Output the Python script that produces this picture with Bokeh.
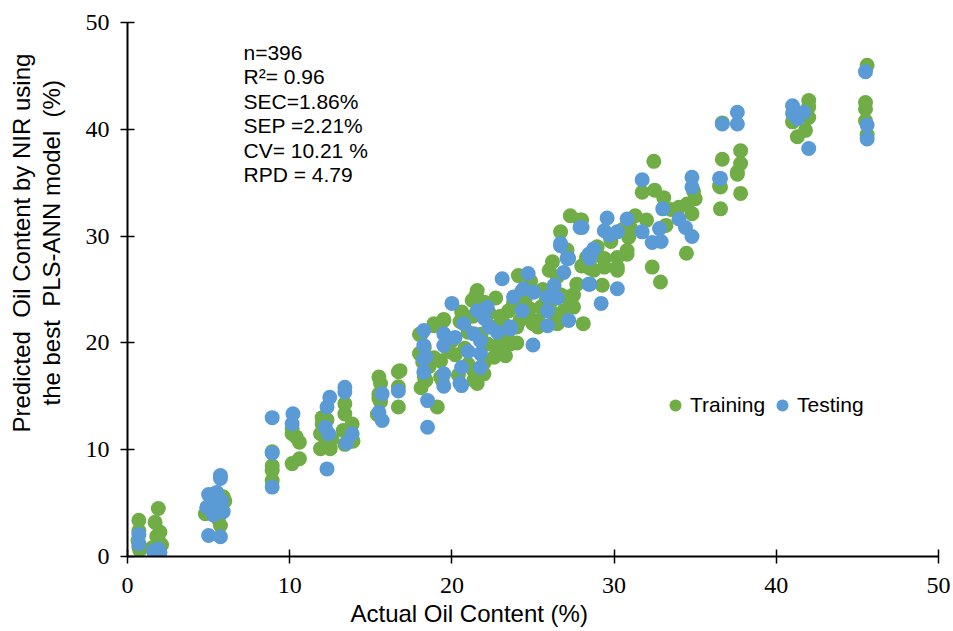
from bokeh.plotting import figure
from bokeh.models import Legend, LegendItem, Label, Title, Range1d, FixedTicker
from bokeh.embed import file_html
from bokeh.resources import INLINE

# ---- data ----
train_x = [0.7, 0.7, 0.7, 0.75, 0.65,
           1.9, 1.7, 2.0, 1.9, 1.5, 2.1, 1.8,
           4.8, 5.73, 5.2, 5.9, 5.5, 4.9, 5.6, 6.0, 5.3,
           8.92, 8.92, 8.92, 8.92,
           10.15, 10.15, 10.6, 10.15, 10.6, 10.4,
           12.0, 12.0, 11.9, 11.9, 12.5, 12.3, 12.6, 12.2,
           13.4, 13.4, 13.85, 13.3, 13.9, 13.4, 13.7,
           15.5, 15.6, 15.5, 15.5, 15.4, 15.6,
           16.7, 16.7, 16.7, 16.8,
           18.1, 18.3, 18.0, 18.0, 18.3, 18.1, 18.4, 18.9, 18.9, 18.9, 19.3, 19.1,
           19.5, 19.5, 19.3, 19.4, 18.6, 18.2,
           20.6, 20.2, 21.0, 21.25, 21.56, 21.35, 21.35, 21.56, 21.56, 21.97, 22.2,
           22.6, 22.8, 23.4, 23.6, 24.2, 24.6, 25.5, 26.3, 26.5, 25.3, 25.3, 24.1,
           24.85, 22.0, 21.5, 20.5, 21.0, 22.5, 23.0, 23.3, 23.0, 23.5, 24.0, 24.0,
           24.5, 25.0, 25.8, 20.0, 20.8, 21.8, 22.3, 23.8, 24.8, 22.0, 20.4, 19.8,
           21.3, 22.7, 23.2, 24.3, 25.6, 26.0, 26.9,
           27.3, 28.0, 26.7, 26.2, 26.0, 28.1, 27.5, 27.1, 27.1, 28.3, 28.96, 26.5,
           27.7, 27.5, 27.3, 26.7, 27.9, 30.9, 30.8, 30.2, 29.4, 30.2, 29.4, 28.75,
           29.27, 30.8, 30.2, 28.5, 29.8, 30.5, 29.0, 28.0,
           32.45, 31.73, 32.5, 33.06, 34.8, 34.0, 31.3, 32.0, 32.35, 32.86, 34.46,
           33.5, 34.5, 35.0, 33.2, 31.0, 34.9,
           36.56, 36.56, 37.8, 37.6, 36.67, 36.67, 37.8, 37.8, 37.6, 36.5,
           42.0, 42.0, 42.0, 41.0, 41.8, 41.3, 41.1,
           45.6, 45.5, 45.5, 45.5, 45.6]
train_y = [3.4, 2.4, 0.9, 0.6, 1.5,
           4.5, 3.2, 2.3, 1.5, 0.8, 1.1, 1.9,
           4.0, 2.9, 5.0, 5.6, 4.5, 4.6, 3.5, 5.2, 5.8,
           9.8, 8.5, 8.05, 7.1,
           11.5, 12.0, 10.7, 8.7, 9.15, 11.2,
           13.0, 12.4, 11.5, 10.1, 10.1, 12.8, 11.0, 10.5,
           14.3, 13.35, 12.4, 11.8, 10.8, 10.5, 11.6,
           16.8, 16.2, 15.2, 14.8, 13.3, 14.5,
           17.3, 15.9, 14.0, 17.4,
           20.8, 19.6, 19.0, 20.8, 16.8, 15.8, 16.5, 21.8, 21.6, 18.6, 16.8, 14.0,
           22.2, 22.1, 18.3, 16.5, 17.8, 18.2,
           22.9, 18.9, 18.0, 24.0, 24.9, 16.5, 17.4, 16.2, 16.9, 17.1, 19.9,
           18.65, 19.6, 20.8, 19.9, 22.1, 22.7, 23.35, 22.7, 21.8, 22.1, 21.5, 26.3,
           25.8, 23.8, 24.5, 22.0, 21.0, 21.5, 20.5, 18.8, 22.5, 23.0, 21.5, 20.0,
           24.0, 21.8, 24.0, 20.2, 19.5, 20.8, 22.8, 23.8, 23.2, 18.2, 17.0, 19.2,
           22.5, 24.2, 21.8, 24.8, 25.0, 23.5, 23.0,
           31.9, 31.5, 30.4, 27.6, 26.8, 21.8, 23.35, 24.3, 28.7, 28.0, 29.0, 26.2,
           25.5, 24.5, 23.8, 24.5, 31.5, 29.9, 28.65, 28.0, 27.9, 26.8, 27.1, 26.8,
           25.4, 28.3, 27.1, 27.0, 29.5, 30.6, 28.2, 27.2,
           37.0, 34.1, 34.3, 33.6, 32.1, 32.7, 31.9, 31.5, 27.1, 25.7, 28.4,
           32.5, 33.0, 33.5, 31.0, 30.8, 34.2,
           34.6, 32.55, 34.0, 36.0, 37.2, 40.6, 38.0, 36.8, 35.8, 34.7,
           42.7, 42.1, 41.1, 40.7, 39.9, 39.3, 41.2,
           46.0, 42.5, 41.9, 40.8, 39.5]

test_x = [0.7, 0.7,
          1.6, 1.8, 2.0, 1.9, 1.7,
          5.73, 5.73, 5.0, 5.4, 5.8, 5.2, 5.6, 4.9, 5.9, 5.3, 5.0, 5.73, 5.5,
          8.92, 8.92, 8.92,
          10.2, 10.15,
          12.47, 12.3, 12.2, 12.4, 12.3,
          13.4, 13.4, 13.85, 13.5,
          15.7, 15.5, 15.7,
          16.7,
          18.27, 18.27, 18.27, 18.4, 18.5, 18.5, 18.27,
          19.5, 19.5, 19.5, 19.5, 20.6, 20.6, 20.73, 20.0, 21.76, 21.76, 21.56, 22.18,
          21.76, 21.35, 22.8, 23.6, 23.1, 23.8, 24.33, 24.7, 24.4, 25.05, 25.9, 26.3,
          26.5, 25.9, 25.0, 26.7, 27.2, 26.9, 27.2, 27.9, 28.44, 28.44, 29.2, 25.9,
          23.6, 20.5, 22.0, 21.0, 22.3, 20.2,
          31.73, 34.8, 34.8, 36.56, 33.0, 29.57, 30.8, 28.03, 30.2, 31.73, 32.8, 34.0,
          34.8, 32.35, 32.9, 34.4, 29.7, 28.75, 28.5, 27.1, 28.5, 30.2, 26.7, 29.4,
          36.67, 37.6, 37.6, 36.5,
          41.0, 41.0, 41.7, 41.3, 42.0,
          45.5, 45.6, 45.6]
test_y = [2.06, 1.2,
          0.5, 0.3, 0.4, 0.7, 0.2,
          7.58, 7.3, 5.8, 5.5, 5.2, 4.8, 4.4, 4.6, 4.2, 3.9, 1.97, 1.85, 6.0,
          13.0, 9.7, 6.5,
          13.36, 12.43,
          14.9, 14.0, 12.1, 11.5, 8.2,
          15.85, 15.4, 11.5, 10.6,
          15.23, 13.5, 12.73,
          15.5,
          21.16, 19.76, 17.26, 18.7, 14.6, 12.1, 18.5,
          20.85, 19.76, 17.1, 15.95, 16.0, 17.7, 21.8, 23.7, 17.7, 19.0, 23.0, 23.35,
          20.2, 20.85, 21.0, 21.3, 26.0, 24.3, 23.0, 26.5, 25.05, 24.75, 24.3, 25.4,
          24.2, 21.6, 19.8, 29.1, 27.9, 26.6, 22.1, 30.8, 28.3, 25.5, 23.7, 23.0,
          21.5, 16.2, 22.3, 19.2, 21.5, 20.5,
          35.27, 35.5, 34.6, 35.4, 32.55, 31.7, 31.6, 30.8, 30.4, 30.4, 30.7, 31.6,
          29.96, 29.4, 29.5, 30.8, 30.1, 28.8, 27.9, 27.9, 25.5, 25.07, 29.3, 30.5,
          40.5, 41.6, 40.5, 35.4,
          42.2, 41.5, 41.6, 41.0, 38.2,
          45.4, 40.4, 39.1]

axis_ticks = [0, 10, 20, 30, 40, 50]
series_names = ["Training", "Testing"]
stats_lines = ["n=396", "R\u00b2= 0.96", "SEC=1.86%", "SEP =2.21%", "CV= 10.21 %", "RPD = 4.79"]
x_title = "Actual Oil Content (%)"
y_title_line1 = "Predicted \u00a0Oil Content by NIR using"
y_title_line2 = "the best \u00a0PLS-ANN model \u00a0(%)"

GREEN = "#70AD47"
BLUE = "#5B9BD5"
SANS = "Liberation Sans"
SERIF = "Liberation Serif"

p = figure(width=953, height=631, output_backend="svg", toolbar_location=None,
           x_range=Range1d(0, 50), y_range=Range1d(0, 50),
           min_border_left=127, min_border_right=15, min_border_top=22, min_border_bottom=75)
p.outline_line_color = None
p.grid.visible = False
p.background_fill_color = "white"
p.border_fill_color = "white"

for ax in (p.xaxis[0], p.yaxis[0]):
    ax.ticker = FixedTicker(ticks=axis_ticks)
    ax.axis_line_width = 2
    ax.axis_line_color = "black"
    ax.major_tick_line_width = 1.5
    ax.major_tick_line_color = "black"
    ax.major_tick_in = 7
    ax.major_tick_out = 7
    ax.minor_tick_line_color = None
    ax.major_label_text_font = SERIF
    ax.major_label_text_font_size = "24px"
    ax.major_label_text_color = "black"
p.xaxis[0].major_label_standoff = 14
p.yaxis[0].major_label_standoff = 11

# second line of the y title as the axis label (leading spaces lift it like the reference)
yax = p.yaxis[0]
yax.axis_label = "\u00a0" * 14 + y_title_line2
yax.axis_label_standoff = 18
yax.axis_label_text_font = SANS
yax.axis_label_text_font_size = "24px"
yax.axis_label_text_font_style = "normal"
yax.axis_label_text_color = "black"

g = p.scatter(train_x, train_y, size=15, fill_color=GREEN, line_color=None)
b = p.scatter(test_x, test_y, size=15, fill_color=BLUE, line_color=None)

legend = Legend(items=[LegendItem(label=series_names[0], renderers=[g]),
                       LegendItem(label=series_names[1], renderers=[b])],
                location=(533, 136), orientation="horizontal",
                glyph_width=30, glyph_height=30, label_standoff=0, spacing=2,
                padding=0, margin=0, border_line_color=None, background_fill_alpha=0,
                label_text_font=SANS, label_text_font_size="21px", label_text_color="black")
p.add_layout(legend)

# statistics block (annotation text)
for i, t in enumerate(stats_lines):
    p.add_layout(Label(x=7.15, y=47.2 - 2.29 * i, text=t, text_align="left",
                       text_baseline="middle", text_font=SANS, text_font_size="21px",
                       text_color="black"))

# first line of the y title, outside the axis label
yt1 = Title(text=y_title_line1, align="left", offset=124, standoff=0,
            text_font=SANS, text_font_size="24px", text_font_style="normal",
            text_color="black")
p.add_layout(yt1, "left")

# x title, left of centre as in the reference
xt = Title(text=x_title, align="left", offset=223, standoff=4,
           text_font=SANS, text_font_size="24px", text_font_style="normal",
           text_color="black")
p.add_layout(xt, "below")

open("out.html", "w").write(file_html(p, INLINE))
